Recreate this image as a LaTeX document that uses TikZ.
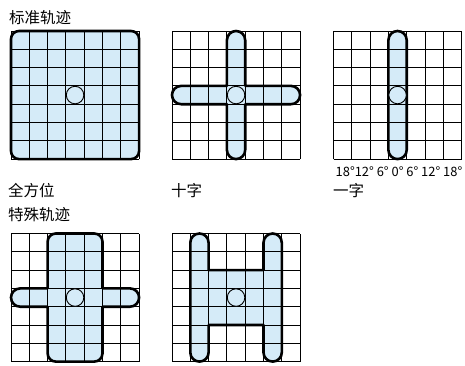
\documentclass[tikz,border=0pt]{standalone}
\usepackage{fontspec}
\newfontfamily\cjk{Noto Sans CJK SC}
\definecolor{shapefill}{RGB}{213,235,248}
\tikzset{
  gridline/.style={line width=1pt, black, step=1},
  outline/.style={line width=2.6pt, black, line join=round},
  shapearea/.style={fill=shapefill},
  hub/.style={circle, draw=black, line width=0.9pt, fill=shapefill, minimum size=17.5pt, inner sep=0pt},
  lbl/.style={font=\cjk\fontsize{15.5}{17}\selectfont, inner sep=0pt, anchor=west},
  deg/.style={font=\cjk\fontsize{12.9}{14}\selectfont, inner sep=0pt},
  cell/.style={x=18.3pt, y=18.3pt}
}
\begin{document}
\begin{tikzpicture}[x=1pt,y=1pt]
\useasboundingbox (0,0) rectangle (465,365);
% labels
\node[lbl] (t1) at (9,347) {标准轨迹};
\node[lbl] (l1) at (8,174) {全方位};
\node[lbl] (l2) at (171,174) {十字};
\node[lbl] (l3) at (333,174) {一字};
\node[lbl] (t2) at (8,150) {特殊轨迹};
\node[deg] (dg) at (399,193.3) {18°12° 6° 0° 6° 12° 18°};
% G1 full square
\begin{scope}[shift={(11pt,205.9pt)}, cell]
  \fill[shapearea, rounded corners=8pt] (0,0) rectangle (7,7);
  \draw[gridline] (0,0) grid (7,7);
  \draw[outline, rounded corners=8pt] (0,0) rectangle (7,7);
  \node[hub] (c1) at (3.5,3.5) {};
\end{scope}
% G2 cross
\begin{scope}[shift={(172pt,205.9pt)}, cell]
  \def\crosspath{(3,6.5) -- (3,4) -- (0.5,4) arc[start angle=90,end angle=270,radius=0.5] -- (3,3) -- (3,0.5) arc[start angle=180,end angle=360,radius=0.5] -- (4,3) -- (6.5,3) arc[start angle=-90,end angle=90,radius=0.5] -- (4,4) -- (4,6.5) arc[start angle=0,end angle=180,radius=0.5] -- cycle}
  \fill[shapearea] \crosspath;
  \draw[gridline] (0,0) grid (7,7);
  \draw[outline] \crosspath;
  \node[hub] (c2) at (3.5,3.5) {};
\end{scope}
% G3 vertical bar
\begin{scope}[shift={(333.5pt,205.9pt)}, cell]
  \def\barpath{(3,6.5) -- (3,0.5) arc[start angle=180,end angle=360,radius=0.5] -- (4,6.5) arc[start angle=0,end angle=180,radius=0.5] -- cycle}
  \fill[shapearea] \barpath;
  \draw[gridline] (0,0) grid (7,7);
  \draw[outline] \barpath;
  \node[hub] (c3) at (3.5,3.5) {};
\end{scope}
% G4 special
\begin{scope}[shift={(11pt,3.4pt)}, cell]
  \def\specpath{(2,4) -- (0.5,4) arc[start angle=90,end angle=270,radius=0.5] -- (2,3) -- (2,0.45) arc[start angle=180,end angle=270,radius=0.45] -- (4.55,0) arc[start angle=270,end angle=360,radius=0.45] -- (5,3) -- (6.5,3) arc[start angle=-90,end angle=90,radius=0.5] -- (5,4) -- (5,6.55) arc[start angle=0,end angle=90,radius=0.45] -- (2.45,7) arc[start angle=90,end angle=180,radius=0.45] -- cycle}
  \fill[shapearea] \specpath;
  \draw[gridline] (0,0) grid (7,7);
  \draw[outline] \specpath;
  \node[hub] (c4) at (3.5,3.5) {};
\end{scope}
% G5 H shape
\begin{scope}[shift={(172pt,3.4pt)}, cell]
  \def\hpath{(1,6.5) -- (1,0.5) arc[start angle=180,end angle=360,radius=0.5] -- (2,2) -- (5,2) -- (5,0.5) arc[start angle=180,end angle=360,radius=0.5] -- (6,6.5) arc[start angle=0,end angle=180,radius=0.5] -- (5,5) -- (2,5) -- (2,6.5) arc[start angle=0,end angle=180,radius=0.5] -- cycle}
  \fill[shapearea] \hpath;
  \draw[gridline] (0,0) grid (7,7);
  \draw[outline] \hpath;
  \node[hub] (c5) at (3.5,3.5) {};
\end{scope}
\end{tikzpicture}
\end{document}
